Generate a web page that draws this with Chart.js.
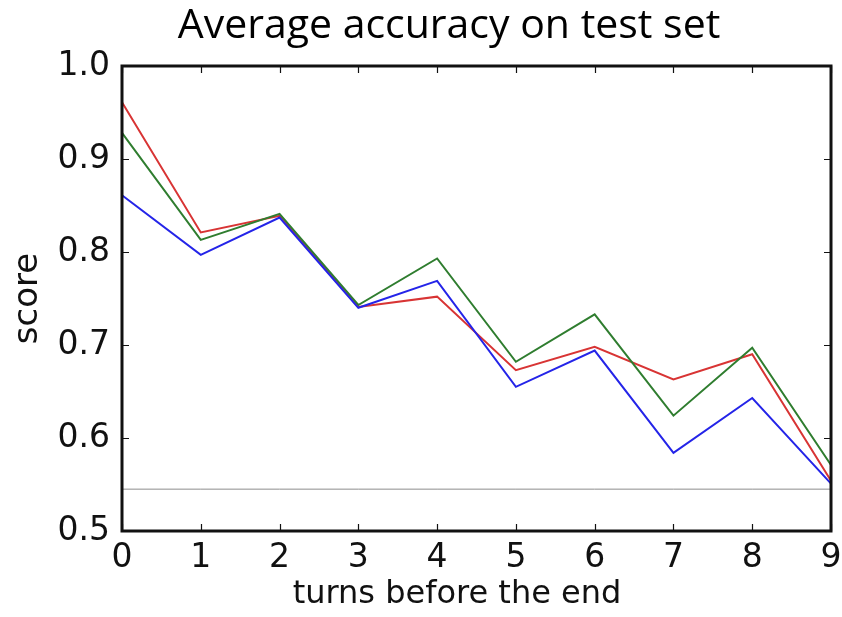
<!DOCTYPE html>
<html>
<head>
<meta charset="utf-8">
<script src="https://cdn.jsdelivr.net/npm/chart.js@4.4.1/dist/chart.umd.min.js"></script>
<style>
  html, body { margin: 0; padding: 0; background: #fff; }
  #wrap { width: 842px; height: 617px; position: relative; }
</style>
</head>
<body>
<div id="wrap"><canvas id="chart" width="842" height="617"></canvas></div>
<script>
// ─── Data ──────────────────────────────────────────────────────
const TURNS    = ['0', '1', '2', '3', '4', '5', '6', '7', '8', '9'];
const BLUE     = [0.861, 0.797, 0.837, 0.740, 0.769, 0.655, 0.694, 0.584, 0.643, 0.551];
const GREEN    = [0.928, 0.813, 0.841, 0.743, 0.793, 0.682, 0.733, 0.624, 0.697, 0.571];
const RED      = [0.961, 0.821, 0.839, 0.741, 0.752, 0.673, 0.698, 0.663, 0.690, 0.554];
const BASELINE = TURNS.map(() => 0.545);
const Y_TICKS  = [0.5, 0.6, 0.7, 0.8, 0.9, 1.0];

const TITLE  = 'Average accuracy on test set';
const X_NAME = 'turns before the end';
const Y_NAME = 'score';

// ─── Style ─────────────────────────────────────────────────────
const COLORS = {
  blue:  '#2424e8',
  green: '#2f7d2f',
  red:   '#d83434',
  base:  '#8c8c8c',
  ink:   '#111111',
};
const SANS = "'DejaVu Sans', sans-serif";
const TICK_FONT = { family: SANS, size: 33 };

// box + inward ticks on all four sides (matplotlib look), title and x label
const frame = {
  id: 'frame',
  afterDraw(chart) {
    const { ctx, chartArea: a, scales: { x, y } } = chart;
    ctx.save();
    ctx.strokeStyle = COLORS.ink;
    ctx.lineWidth = 1.2;
    ctx.beginPath();
    x.ticks.forEach((t, i) => {
      const px = Math.round(x.getPixelForTick(i)) + 0.5;
      ctx.moveTo(px, a.bottom); ctx.lineTo(px, a.bottom - 7);
      ctx.moveTo(px, a.top);    ctx.lineTo(px, a.top + 7);
    });
    y.ticks.forEach((t, i) => {
      const py = Math.round(y.getPixelForTick(i)) + 0.5;
      ctx.moveTo(a.left, py);  ctx.lineTo(a.left + 7, py);
      ctx.moveTo(a.right, py); ctx.lineTo(a.right - 7, py);
    });
    ctx.stroke();
    ctx.lineWidth = 3;
    ctx.strokeRect(a.left, a.top, a.right - a.left, a.bottom - a.top);

    ctx.fillStyle = '#000';
    ctx.textAlign = 'center';
    ctx.textBaseline = 'alphabetic';
    ctx.font = "41px 'Open Sans', sans-serif";
    ctx.fillText(TITLE, 449, 38);
    ctx.font = `32px ${SANS}`;
    ctx.fillStyle = COLORS.ink;
    ctx.fillText(X_NAME, 457, 603);
    ctx.restore();
  }
};

const line = (data, color, width) => ({
  data, borderColor: color, borderWidth: width,
  pointRadius: 0, tension: 0, fill: false,
});

new Chart(document.getElementById('chart'), {
  type: 'line',
  data: {
    labels: TURNS,
    datasets: [
      line(BASELINE, COLORS.base, 1),
      line(BLUE, COLORS.blue, 2),
      line(GREEN, COLORS.green, 2),
      line(RED, COLORS.red, 2),
    ]
  },
  options: {
    responsive: false,
    animation: false,
    layout: { padding: { top: 66, right: 11, left: 0, bottom: 0 } },
    plugins: { legend: { display: false }, tooltip: { enabled: false }, title: { display: false } },
    scales: {
      x: {
        offset: false,
        grid: { display: false, drawTicks: false },
        border: { display: false },
        ticks: { font: TICK_FONT, color: COLORS.ink, padding: 8, maxRotation: 0, autoSkip: false },
        afterFit: s => { s.height = 617 - 531; s.paddingLeft = 0; s.paddingRight = 0; },
      },
      y: {
        min: 0.5, max: 1.0,
        afterBuildTicks: s => { s.ticks = Y_TICKS.map(v => ({ value: v })); },
        grid: { display: false, drawTicks: false },
        border: { display: false },
        ticks: { font: TICK_FONT, color: COLORS.ink, padding: 12, callback: v => v.toFixed(1) },
        title: { display: true, text: Y_NAME, font: { family: SANS, size: 34 }, color: COLORS.ink, padding: { top: 8, bottom: 0 } },
        afterFit: s => { s.width = 122; s.paddingTop = 0; s.paddingBottom = 0; },
      }
    }
  },
  plugins: [frame]
});
</script>
</body>
</html>
